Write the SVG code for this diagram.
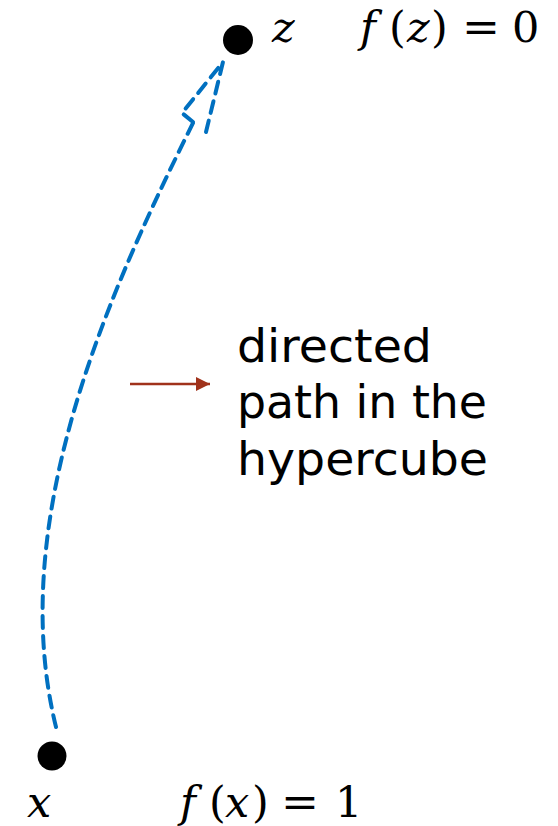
<svg xmlns="http://www.w3.org/2000/svg" width="558" height="826" viewBox="0 0 558 826">
<style>
.dash{fill:none;stroke:#0070C0;stroke-width:4;stroke-dasharray:12 8;stroke-linecap:round;stroke-linejoin:round}
.math{font-family:"DejaVu Serif","Liberation Serif",serif;font-size:43px;fill:#000}
.it{font-style:italic}
.lbl{font-family:"DejaVu Sans","Liberation Sans",sans-serif;font-size:46px;fill:#000}
</style>
<defs>
<marker id="redhead" markerWidth="14" markerHeight="14" refX="14" refY="7" orient="auto" markerUnits="userSpaceOnUse">
<path d="M0,0 L14,7 L0,14 Z" fill="#A0321B"/>
</marker>
</defs>
<g id="connectors">
<path id="directed-path" class="dash" d="M56,727 C5,520 110,290 193,123"/>
<path id="directed-path-head" class="dash" d="M193,122 L182,113 L223,62 L206,132"/>
<line id="pointer" x1="130" y1="384" x2="210" y2="384" stroke="#A0321B" stroke-width="2.5" marker-end="url(#redhead)"/>
</g>
<g id="node-z">
<circle cx="238" cy="40" r="15" fill="#000"/>
<text class="math it" x="272" y="42">z</text>
<text class="math" y="42"><tspan class="it" x="360">f</tspan><tspan x="389">(</tspan><tspan class="it" x="407">z</tspan><tspan x="431">)</tspan><tspan x="462" textLength="38" lengthAdjust="spacingAndGlyphs">=</tspan><tspan x="512">0</tspan></text>
</g>
<g id="node-x">
<circle cx="52" cy="756" r="14.5" fill="#000"/>
<text class="math it" x="27" y="817">x</text>
<text class="math" y="817"><tspan class="it" x="180">f</tspan><tspan x="209">(</tspan><tspan class="it" x="225">x</tspan><tspan x="252">)</tspan><tspan x="281" textLength="38" lengthAdjust="spacingAndGlyphs">=</tspan><tspan x="335">1</tspan></text>
</g>
<g id="label">
<text class="lbl" x="237" y="362" textLength="195" lengthAdjust="spacingAndGlyphs">directed</text>
<text class="lbl" x="237" y="418" textLength="250" lengthAdjust="spacingAndGlyphs">path in the</text>
<text class="lbl" x="237" y="475" textLength="251" lengthAdjust="spacingAndGlyphs">hypercube</text>
</g>
</svg>
